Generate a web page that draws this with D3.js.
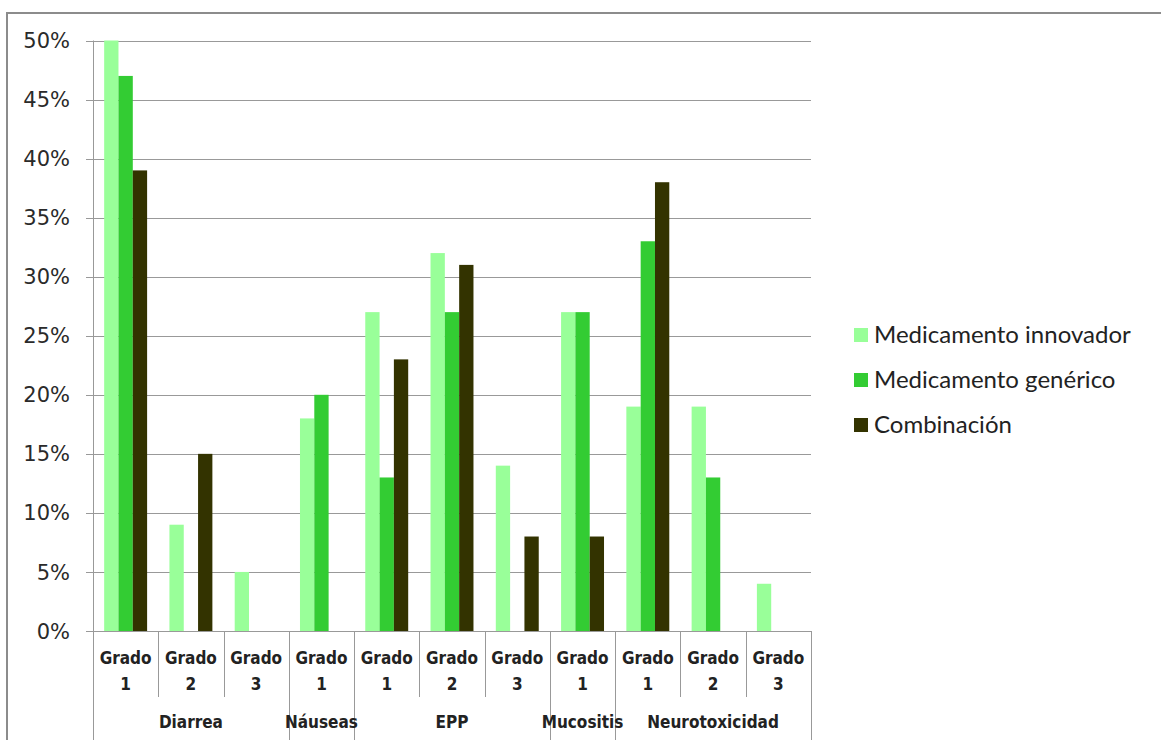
<!DOCTYPE html>
<html>
<head>
<meta charset="utf-8">
<script src="https://cdn.jsdelivr.net/npm/d3@7"></script>
<style>
  html, body { margin: 0; padding: 0; background: #fff; }
  svg { display: block; }
</style>
</head>
<body>
<svg id="chart" width="1161" height="740"></svg>
<script>
// Adverse-event incidence by grade, per treatment arm
const groups = ["Diarrea", "Náuseas", "EPP", "Mucositis", "Neurotoxicidad"];
const grades = [
  ["Diarrea", "Grado 1"], ["Diarrea", "Grado 2"], ["Diarrea", "Grado 3"],
  ["Náuseas", "Grado 1"],
  ["EPP", "Grado 1"], ["EPP", "Grado 2"], ["EPP", "Grado 3"],
  ["Mucositis", "Grado 1"],
  ["Neurotoxicidad", "Grado 1"], ["Neurotoxicidad", "Grado 2"], ["Neurotoxicidad", "Grado 3"]
];
const seriesNames = ["Medicamento innovador", "Medicamento genérico", "Combinación"];
const innovador = [50, 9, 5, 18, 27, 32, 14, 27, 19, 19, 4];
const generico  = [47, 0, 0, 20, 13, 27, 0, 27, 33, 13, 0];
const combinacion = [39, 15, 0, 0, 23, 31, 8, 8, 38, 0, 0];
const yTicks = [0, 5, 10, 15, 20, 25, 30, 35, 40, 45, 50];
const colors = ["#99ff99", "#33cc33", "#333300"];

const svg = d3.select("#chart");
const plot = { left: 93, right: 811, top: 40.5, bottom: 631 };

// chart frame
svg.append("rect")
  .attr("x", 7).attr("y", 13)
  .attr("width", 1200).attr("height", 800)
  .attr("fill", "none").attr("stroke", "#8c8c8c").attr("stroke-width", 2);

const ids = grades.map((d, i) => i);
const x0 = d3.scaleBand().domain(ids).range([plot.left, plot.right]).padding(0);
const x1 = d3.scaleBand().domain(seriesNames).range([0, x0.bandwidth()])
  .paddingInner(0).paddingOuter(0.78);
const y = d3.scaleLinear().domain([0, 50]).range([plot.bottom, plot.top]);

// gridlines
svg.append("g").selectAll("line").data(yTicks).join("line")
  .attr("x1", plot.left - 7).attr("x2", plot.right)
  .attr("y1", d => Math.round(y(d)) + 0.5).attr("y2", d => Math.round(y(d)) + 0.5)
  .attr("stroke", "#999").attr("stroke-width", 1);

// y axis labels
svg.append("g").selectAll("text").data(yTicks).join("text")
  .attr("x", 70).attr("y", d => y(d))
  .attr("dy", "0.36em")
  .attr("text-anchor", "end")
  .attr("font-family", "DejaVu Sans, sans-serif")
  .attr("font-size", 21).attr("fill", "#2a2a2a")
  .text(d => d + "%");

// bars
const table = [innovador, generico, combinacion];
const barG = svg.append("g");
seriesNames.forEach((s, si) => {
  barG.append("g").selectAll("rect").data(ids).join("rect")
    .attr("x", i => x0(i) + x1(s))
    .attr("width", x1.bandwidth())
    .attr("y", i => y(table[si][i]))
    .attr("height", i => y(0) - y(table[si][i]))
    .attr("fill", colors[si]);
});

// axis lines
svg.append("line")
  .attr("x1", plot.left + 0.5).attr("x2", plot.left + 0.5)
  .attr("y1", plot.top).attr("y2", 740)
  .attr("stroke", "#999");
svg.append("line")
  .attr("x1", plot.left).attr("x2", plot.right)
  .attr("y1", Math.round(y(0)) + 0.5).attr("y2", Math.round(y(0)) + 0.5)
  .attr("stroke", "#999");

// category separators: long ones at group boundaries
const boundaries = ids.map(i => ({
  x: x0(i),
  long: i === 0 || grades[i][0] !== grades[i - 1][0]
}));
boundaries.push({ x: plot.right, long: true });
svg.append("g").selectAll("line").data(boundaries).join("line")
  .attr("x1", d => Math.round(d.x) + 0.5).attr("x2", d => Math.round(d.x) + 0.5)
  .attr("y1", plot.bottom).attr("y2", d => d.long ? 740 : 697)
  .attr("stroke", "#999");

// grade labels
const labelFont = "DejaVu Sans Condensed, DejaVu Sans, sans-serif";
const gradeText = svg.append("g").selectAll("text").data(ids).join("text")
  .attr("text-anchor", "middle")
  .attr("font-family", labelFont)
  .attr("font-stretch", "condensed")
  .attr("font-size", 17).attr("font-weight", "bold").attr("fill", "#222");
gradeText.append("tspan")
  .attr("x", i => x0(i) + x0.bandwidth() / 2).attr("y", 664)
  .text(i => grades[i][1].split(" ")[0]);
gradeText.append("tspan")
  .attr("x", i => x0(i) + x0.bandwidth() / 2).attr("y", 690)
  .text(i => grades[i][1].split(" ")[1]);

// group labels
svg.append("g").selectAll("text").data(groups).join("text")
  .attr("x", g => {
    const idx = ids.filter(i => grades[i][0] === g);
    return (x0(idx[0]) + x0(idx[idx.length - 1]) + x0.bandwidth()) / 2;
  })
  .attr("y", 728)
  .attr("text-anchor", "middle")
  .attr("font-family", labelFont)
  .attr("font-stretch", "condensed")
  .attr("font-size", 17).attr("font-weight", "bold").attr("fill", "#222")
  .text(g => g);

// legend
const legend = svg.append("g").selectAll("g").data(seriesNames).join("g")
  .attr("transform", (d, i) => `translate(854, ${335 + i * 45})`);
legend.append("rect")
  .attr("x", 0).attr("y", -7).attr("width", 14).attr("height", 14)
  .attr("fill", (d, i) => colors[i]);
legend.append("text")
  .attr("x", 20).attr("y", 0).attr("dy", "0.35em")
  .attr("font-family", "Lato, sans-serif")
  .attr("font-size", 24).attr("fill", "#222")
  .text(d => d);
</script>
</body>
</html>
